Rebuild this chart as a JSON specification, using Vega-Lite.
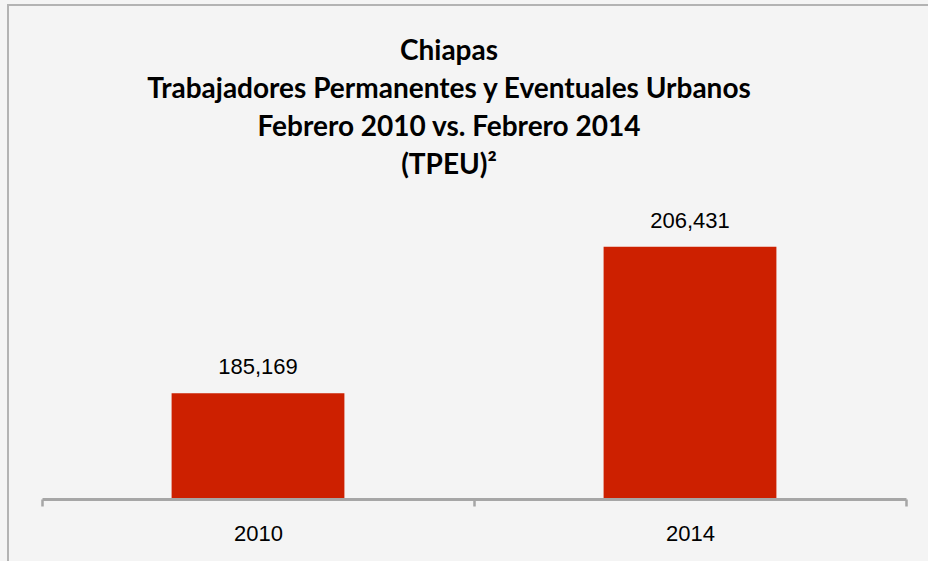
{
  "$schema": "https://vega.github.io/schema/vega-lite/v6.json",
  "width": 930,
  "height": 565,
  "autosize": {"type": "none"},
  "padding": {"left": 8, "top": 5, "right": 0, "bottom": 0},
  "background": "#f4f4f4",
  "title": {
    "text": ["Chiapas", "Trabajadores Permanentes y Eventuales Urbanos", "Febrero 2010 vs. Febrero 2014", "(TPEU)²"],
    "font": "Lato",
    "fontSize": 28,
    "fontWeight": "bold",
    "lineHeight": 38,
    "color": "#000000",
    "anchor": "middle",
    "frame": "group",
    "orient": "top",
    "offset": -197,
    "baseline": "alphabetic",
    "dx": -24
  },
  "data": {"values": [
    {"year": "2010", "value": 185169},
    {"year": "2014", "value": 206431}
  ]},
  "encoding": {
    "x": {
      "field": "year",
      "type": "nominal",
      "scale": {"range": [34, 898], "paddingInner": 0, "paddingOuter": 0},
      "axis": {
        "title": null,
        "orient": "bottom",
        "offset": -71,
        "tickBand": "extent",
        "domainColor": "#a6a6a6",
        "domainWidth": 3,
        "tickColor": "#a6a6a6",
        "tickWidth": 2.5,
        "tickSize": 7,
        "labelFont": "Liberation Sans",
        "labelFontSize": 22,
        "labelColor": "#000000",
        "labelAngle": 0,
        "labelBaseline": "alphabetic",
        "labelPadding": 34
      }
    }
  },
  "layer": [
    {
      "mark": {"type": "bar", "color": "#cd2000", "width": {"band": 0.4}},
      "encoding": {
        "y": {"field": "value", "type": "quantitative", "scale": {"domain": [170000, 210000], "range": [493, 217], "zero": false}, "axis": null},
        "y2": {"datum": 170000}
      }
    },
    {
      "mark": {"type": "text", "font": "Liberation Sans", "fontSize": 22, "baseline": "alphabetic", "dy": -19, "color": "#000000"},
      "encoding": {
        "y": {"field": "value", "type": "quantitative"},
        "text": {"field": "value", "type": "quantitative", "format": ","}
      }
    }
  ],
  "config": {"view": {"stroke": "#b3b3b3", "strokeWidth": 2, "fill": "#f4f4f4"}}
}
